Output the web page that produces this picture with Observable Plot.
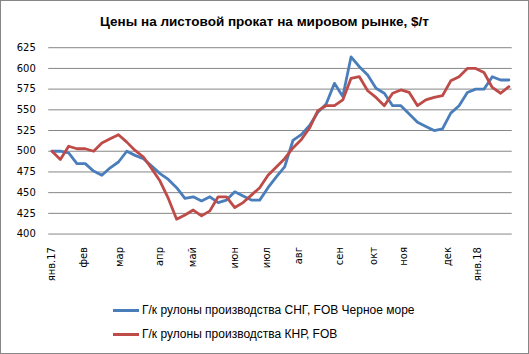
<!DOCTYPE html>
<html><head><meta charset="utf-8">
<script src="https://cdn.jsdelivr.net/npm/d3@7"></script>
<script src="https://cdn.jsdelivr.net/npm/@observablehq/plot@0.6"></script>
<style>
body{margin:0;background:#fff;}
#wrap{position:relative;width:527px;height:352px;border:1px solid #868686;overflow:hidden;font-family:"Liberation Sans",Arial,sans-serif;background:#fff;}
#title{position:absolute;left:0;top:13px;width:527px;text-align:center;font-weight:bold;font-size:13.5px;color:#000;}
#chart{position:absolute;left:-1px;top:-1px;}
.leg{position:absolute;left:112px;font-size:12px;color:#000;display:flex;align-items:center;height:14px;}
.leg span.sw{display:inline-block;width:26px;height:3px;margin-right:3px;}
</style></head>
<body>
<div id="wrap">
  <div id="title">Цены на листовой прокат на мировом рынке, $/т</div>
  <div id="chart"></div>
  <div class="leg" style="top:302px"><span class="sw" style="background:#4A7EBB"></span>Г/к рулоны производства СНГ, FOB Черное море</div>
  <div class="leg" style="top:326px"><span class="sw" style="background:#BE4B48"></span>Г/к рулоны производства КНР, FOB</div>
</div>
<script>
const cisFob = [500,500,498,485,485,476,471,480,487,500,495,491,482,473,466,456,443,445,440,445,438,441,451,446,441,441,456,469,481,513,520,531,547,557,582,566,614,602,592,576,570,555,555,545,535,530,525,527,546,555,571,575,575,590,586,586];
const chinaFob = [500,490,506,503,503,500,510,515,520,511,501,493,479,464,443,418,423,429,422,428,445,445,432,438,447,456,471,481,491,504,514,528,549,555,555,562,588,590,573,565,555,570,574,571,555,562,565,567,585,590,600,600,595,577,570,578];
const tickPos = [0,3.8,8.2,13,16.9,22,25.9,29.7,34.7,38.7,42.4,47.7,51.3];
const tickLabels = ["янв.17","фев","мар","апр","май","июн","июл","авг","сен","окт","ноя","дек","янв.18"];
const yTicks = [400,425,450,475,500,525,550,575,600,625];
const seriesNames = ["Г/к рулоны производства СНГ, FOB Черное море","Г/к рулоны производства КНР, FOB"];

const rows = [];
cisFob.forEach((v,i)=>rows.push({week:i,value:v,series:seriesNames[0]}));
chinaFob.forEach((v,i)=>rows.push({week:i,value:v,series:seriesNames[1]}));
const labelMap = new Map(tickPos.map((p,i)=>[p,tickLabels[i]]));

const chart = Plot.plot({
  width:529, height:354,
  marginTop:47.3, marginBottom:120, marginLeft:48.3, marginRight:16.3,
  x:{domain:[-0.4,55.4]},
  y:{domain:[400,625]},
  color:{domain:seriesNames, range:["#4A7EBB","#BE4B48"]},
  style:{fontFamily:"DejaVu Sans", fontSize:"10px", color:"#000", background:"transparent", overflow:"visible"},
  marks:[
    Plot.gridY(yTicks,{stroke:"#868686",strokeOpacity:1,strokeWidth:1}),
    Plot.axisY(yTicks,{tickSize:0,tickPadding:13,label:null,tickFormat:d=>String(d)}),
    Plot.axisX(tickPos,{tickSize:0,tickPadding:13,tickRotate:-90,label:null,tickFormat:d=>labelMap.get(d)}),
    Plot.line(rows,{x:"week",y:"value",z:"series",stroke:"series",strokeWidth:2.8,strokeLinejoin:"round"})
  ]
});
document.getElementById("chart").appendChild(chart);
</script>
</body></html>
